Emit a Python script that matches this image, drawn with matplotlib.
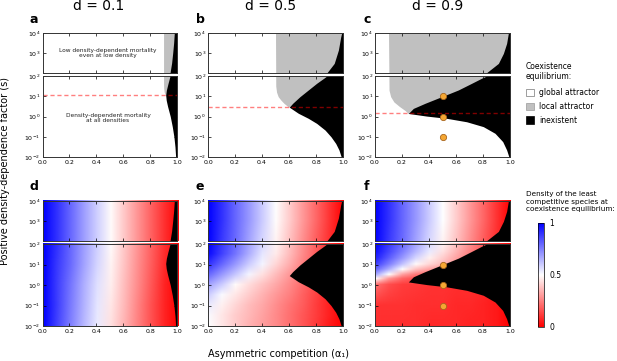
import numpy as np
import matplotlib.pyplot as plt
from matplotlib.patches import Patch
from matplotlib.image import NonUniformImage
from matplotlib.colors import Normalize
import matplotlib.cm as cm

# ---- data ----
d_values = [0.1, 0.5, 0.9]
letters_top = ['a', 'b', 'c']
letters_bot = ['d', 'e', 'f']

# left edge of the "inexistent" (black) region: log10(s) -> alpha1
black_logs_a = [-2, -1.5, -1, -0.5, 0, 0.5, 0.8, 1.05, 1.3, 1.6, 2, 2.5, 3, 3.5, 4]
black_alpha_a = [0.99, 0.985, 0.977, 0.965, 0.95, 0.93, 0.92, 0.916, 0.921, 0.932, 0.948, 0.96, 0.968, 0.975, 0.98]

black_logs_b = [-2.06, -1.65, -1.33, -1.0, -0.67, -0.34, -0.09, 0.16, 0.46, 0.65, 0.98,
                1.31, 1.64, 1.9, 2.0, 2.48, 3.15, 3.8, 4]
black_alpha_b = [0.99, 0.97, 0.946, 0.911, 0.867, 0.805, 0.743, 0.669, 0.602, 0.627, 0.681,
                 0.743, 0.805, 0.86, 0.88, 0.935, 0.966, 0.983, 0.99]

black_logs_c = [-2.06, -1.65, -1.24, -0.83, -0.5, -0.26, -0.09, 0.02, 0.15, 0.4, 0.65, 0.98,
                1.31, 1.64, 1.89, 1.98, 2.48, 2.98, 3.48, 4]
black_alpha_c = [0.995, 0.975, 0.946, 0.889, 0.802, 0.679, 0.531, 0.383, 0.247, 0.284, 0.37, 0.494,
                 0.617, 0.716, 0.79, 0.82, 0.914, 0.951, 0.975, 0.988]

# left edge of the "local attractor" (grey) region
grey_logs_a = [1.05, 1.2, 1.4, 1.6, 2, 4]
grey_alpha_a = [0.916, 0.905, 0.901, 0.9, 0.9, 0.9]
grey_logs_b = [0.46, 0.52, 0.65, 0.81, 0.98, 1.2, 1.5, 4]
grey_alpha_b = [0.602, 0.587, 0.563, 0.54, 0.52, 0.508, 0.502, 0.5]
grey_logs_c = [0.15, 0.3, 0.5, 0.72, 0.98, 1.3, 4]
grey_alpha_c = [0.247, 0.222, 0.18, 0.14, 0.116, 0.104, 0.1]

dash_logs = [1.05, 0.46, 0.15]
dots_alpha = [0.5, 0.5, 0.5]
dots_logs = [1, 0, -1]          # s = 10, 1, 0.1

# density of the least competitive species (bottom row)
dens_alpha = [0.0, 0.1, 0.2, 0.3, 0.4, 0.5, 0.6, 0.7, 0.8, 0.9, 1.0]

dens_logs_d = [-2, -1, 0, 1, 2, 3, 4]
dens_d = [
    [1.00, .87, .75, .64, .54, .44, .35, .25, .16, .07, .00],
    [1.00, .88, .76, .65, .55, .45, .36, .26, .16, .07, .00],
    [1.00, .88, .77, .66, .56, .465, .37, .27, .17, .07, .00],
    [1.00, .89, .79, .68, .58, .48, .38, .28, .18, .08, .00],
    [1.00, .90, .80, .69, .59, .49, .39, .29, .19, .09, .00],
    [1.00, .90, .80, .69, .59, .49, .39, .29, .19, .09, .00],
    [1.00, .90, .80, .69, .59, .49, .39, .29, .19, .09, .00],
]

dens_logs_e = [-2, -1.5, -1, -0.5, 0, 0.5, 1, 1.5, 2, 3, 4]
dens_e = [
    [.50, .45, .40, .35, .31, .27, .22, .17, .11, .05, .00],
    [.51, .45, .40, .36, .32, .27, .22, .17, .12, .06, .00],
    [.54, .47, .42, .37, .33, .28, .23, .18, .12, .06, .00],
    [.60, .51, .45, .40, .35, .30, .25, .19, .13, .06, .00],
    [.68, .60, .49, .43, .38, .33, .27, .21, .14, .07, .00],
    [.80, .70, .61, .52, .44, .37, .30, .23, .15, .07, .00],
    [.90, .80, .70, .60, .52, .42, .34, .25, .17, .08, .00],
    [.98, .87, .77, .66, .55, .46, .37, .27, .18, .09, .00],
    [1.00, .89, .79, .68, .58, .48, .38, .28, .18, .09, .00],
    [1.00, .90, .80, .70, .60, .495, .40, .30, .20, .10, .00],
    [1.00, .90, .80, .70, .60, .50, .40, .30, .20, .10, .00],
]

dens_logs_f = [-2, -1, 0, 0.3, 0.5, 0.75, 1.0, 1.3, 1.6, 2, 3, 4]
dens_f = [
    [.09, .09, .09, .09, .08, .08, .08, .07, .07, .05, .00],
    [.10, .10, .10, .09, .09, .09, .08, .08, .07, .05, .00],
    [.22, .15, .12, .11, .10, .10, .09, .09, .08, .05, .00],
    [.50, .30, .20, .16, .14, .13, .12, .11, .09, .05, .00],
    [.68, .50, .32, .24, .20, .18, .16, .14, .11, .06, .00],
    [.80, .66, .50, .38, .32, .28, .24, .19, .13, .07, .00],
    [.88, .75, .62, .49, .42, .36, .30, .23, .15, .07, .00],
    [.94, .82, .70, .58, .47, .40, .32, .24, .16, .08, .00],
    [.97, .86, .75, .64, .54, .44, .35, .26, .17, .08, .00],
    [1.00, .89, .79, .68, .58, .48, .38, .28, .18, .09, .00],
    [1.00, .90, .80, .70, .60, .50, .40, .30, .20, .10, .00],
    [1.00, .90, .80, .70, .60, .50, .40, .30, .20, .10, .00],
]

black_logs = [black_logs_a, black_logs_b, black_logs_c]
black_alpha = [black_alpha_a, black_alpha_b, black_alpha_c]
grey_logs = [grey_logs_a, grey_logs_b, grey_logs_c]
grey_alpha = [grey_alpha_a, grey_alpha_b, grey_alpha_c]
dens_logs = [dens_logs_d, dens_logs_e, dens_logs_f]
dens = [dens_d, dens_e, dens_f]

# ---- layout (pixels) ----
W, H = 617, 361
fig = plt.figure(figsize=(W / 100, H / 100), dpi=100)


def box(x0, y0, x1, y1):
    return [x0 / W, 1 - y1 / H, (x1 - x0) / W, (y1 - y0) / H]


col_x = [(42.5, 177), (208, 343), (375, 510)]
rows = [((33, 73), (76, 157)), ((201, 241), (244, 326))]
title_x = [99, 271, 438]
letter_x = [29, 196, 364]
letter_y = [23, 190]

xt = [0.0, 0.2, 0.4, 0.6, 0.8, 1.0]
GREY = '#c0c0c0'
SPINE = '#333333'
norm = Normalize(0, 1)
cmap = plt.get_cmap('bwr_r')


def style(ax, upper):
    # y axis is log10(s); labels show powers of ten
    ax.set_xlim(0, 1)
    ax.tick_params(direction='in', length=2.5, width=0.5, labelsize=4.5,
                   top=True, right=True, pad=1.5)
    ax.tick_params(axis='x', pad=2.5)
    for sp in ax.spines.values():
        sp.set_linewidth(0.7)
        sp.set_color(SPINE)
    ax.set_xticks(xt)
    if upper:
        ax.set_ylim(2, 4)
        ax.set_yticks([2, 3, 4], ['', r'$10^{3}$', r'$10^{4}$'])
        ax.set_xticklabels([])
    else:
        ax.set_ylim(-2, 2)
        ax.set_yticks([-2, -1, 0, 1, 2],
                      [r'$10^{-2}$', r'$10^{-1}$', r'$10^{0}$', r'$10^{1}$', r'$10^{2}$'])
        ax.set_xticklabels([f'{v:.1f}' for v in xt])


for c in range(3):
    x0, x1 = col_x[c]
    for r in range(2):
        for k, (y0, y1) in enumerate(rows[r]):
            ax = fig.add_axes(box(x0, y0, x1, y1))
            if r == 0:
                ax.fill_betweenx(grey_logs[c], grey_alpha[c], 1.0, color=GREY, lw=0)
            else:
                im = NonUniformImage(ax, interpolation='bilinear', cmap=cmap, norm=norm,
                                     extent=(0, 1, -2, 4))
                im.set_data(np.array(dens_alpha), np.array(dens_logs[c], dtype=float),
                            np.array(dens[c]))
                ax.add_image(im)
            ax.fill_betweenx(black_logs[c], black_alpha[c], 1.0, color='black', lw=0)
            style(ax, upper=(k == 0))
            if k == 1:
                if r == 0:
                    ax.axhline(dash_logs[c], color='red', alpha=0.5, lw=1.0,
                               dashes=(3, 2))
                if c == 2:
                    ax.plot(dots_alpha, dots_logs, 'o', ms=4.5, mfc='#f5a733', mec='#a8651c',
                            mew=0.6, zorder=5)
            if r == 0 and c == 0:
                if k == 0:
                    ax.text(0.487, 3, 'Low density-dependent mortality\neven at low density',
                            ha='center', va='center', fontsize=4.2, color='#222222')
                else:
                    ax.text(0.487, -0.07, 'Density-dependent mortality\nat all densities',
                            ha='center', va='center', fontsize=4.2, color='#222222')
        fig.text(letter_x[c] / W, 1 - letter_y[r] / H,
                 (letters_top if r == 0 else letters_bot)[c],
                 fontsize=9, fontweight='bold', va='baseline', ha='left')
    fig.text(title_x[c] / W, 1 - 10 / H, f'd = {d_values[c]}', fontsize=10,
             ha='center', va='baseline')

fig.text(5 / W, 1 - 171 / H, 'Positive density-dependence factor (s)', rotation=90,
         ha='center', va='center', fontsize=7)
fig.text(278.5 / W, 1 - 354 / H, 'Asymmetric competition (α₁)', ha='center', va='center',
         fontsize=7)

# legend for the top row
handles = [Patch(facecolor='white', edgecolor='#777777', lw=0.5),
           Patch(facecolor=GREY, edgecolor='#999999', lw=0.5),
           Patch(facecolor='black', edgecolor='black', lw=0.5)]
leg = fig.legend(handles, ['global attractor', 'local attractor', 'inexistent'],
                 loc='upper left', bbox_to_anchor=(526 / W, 1 - 62 / H), frameon=False,
                 fontsize=5.5, title='Coexistence\nequilibrium:', title_fontsize=5.5,
                 alignment='left', handlelength=1.1, handleheight=1.1, handletextpad=0.6,
                 labelspacing=0.6, borderpad=0, borderaxespad=0)
leg._legend_box.sep = 5

# colorbar for the bottom row
fig.text(526 / W, 1 - 191 / H, 'Density of the least\ncompetitive species at\ncoexistence equilibrium:',
         fontsize=5.2, ha='left', va='top', linespacing=1.3)
cax = fig.add_axes(box(538, 223, 544, 327))
cb = fig.colorbar(cm.ScalarMappable(norm=norm, cmap=cmap), cax=cax, ticks=[0, 0.5, 1])
cb.ax.set_yticklabels(['0', '0.5', '1'])
cb.ax.tick_params(length=0, labelsize=5.5, pad=4)
cb.outline.set_linewidth(0.5)

fig.savefig('out.png', dpi=100)
